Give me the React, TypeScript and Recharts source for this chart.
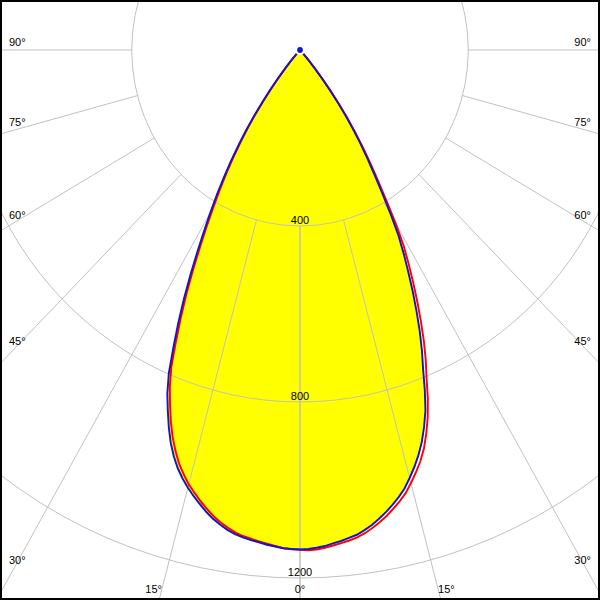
import React from "react";
import { RadarChart, Radar, PolarGrid, PolarAngleAxis, PolarRadiusAxis } from "recharts";

// gamma angles (deg from nadir) at which the intensities below were read
const gammas = [
  0, 1, 2, 3, 4, 5, 6, 7, 8, 9, 10, 11, 12, 13, 14, 15, 16, 17, 18, 19, 20, 21, 22,
  23, 24, 25, 26, 27, 28, 29, 30, 31, 32, 33, 34, 35, 36, 37, 38, 39, 40, 41, 42, 43, 44, 45,
];

// cd, blue plane (left / right half)
const blueLeft = [
  1135, 1134, 1133, 1130, 1127, 1123, 1120, 1116, 1111, 1104, 1095, 1085, 1073, 1059, 1045, 1030,
  1013, 994, 971, 944, 912, 877, 842, 798, 740, 685, 630, 574, 520, 470, 425, 383, 342, 302, 262,
  225, 188, 150, 115, 85, 58, 36, 18, 6, 0, 0,
];
const blueRight = [
  1135, 1134, 1132, 1129, 1124, 1120, 1115, 1110, 1102, 1093, 1082, 1070, 1057, 1043, 1027, 1007,
  986, 963, 937, 906, 872, 828, 781, 742, 700, 656, 612, 568, 526, 484, 432, 380, 335, 295, 258,
  222, 186, 150, 115, 85, 58, 36, 18, 6, 0, 0,
];
// cd, red plane (left / right half)
const redLeft = [
  1136, 1135, 1133, 1129, 1125, 1121, 1117, 1113, 1107, 1099, 1090, 1079, 1066, 1052, 1037, 1022,
  1003, 983, 958, 930, 898, 862, 826, 783, 725, 670, 615, 559, 505, 456, 411, 370, 330, 292, 253,
  217, 181, 144, 111, 82, 56, 35, 17, 6, 0, 0,
];
const redRight = [
  1138, 1137, 1136, 1133, 1129, 1125, 1121, 1116, 1109, 1100, 1090, 1079, 1066, 1053, 1038, 1019,
  999, 978, 953, 922, 888, 848, 803, 765, 724, 680, 636, 592, 550, 508, 455, 398, 350, 307, 268,
  230, 192, 155, 118, 87, 59, 37, 18, 6, 0, 0,
];

const ringLabels = [400, 800, 1200];
const rayAngles = [0, 15, 30, 45, 60, 75, 90];

const STEP = 1;
const MAX_CD = 1600;

// full turn, index 0 = nadir, going clockwise (left side first); nothing is emitted past 45°
const table = Array.from({ length: 360 / STEP }, (_, i) => {
  const a = i * STEP;
  const li = gammas.indexOf(a);
  const ri = gammas.indexOf(360 - a);
  return {
    a,
    blue: li >= 0 ? blueLeft[li] : ri >= 0 ? blueRight[ri] : 0,
    red: li >= 0 ? redLeft[li] : ri >= 0 ? redRight[ri] : 0,
  };
});

// the original diagram is squeezed horizontally
const K = 0.956;
const W = 630;
const H = 600;
const CX = W / 2;
const CY = 50;
const R = 704;
const INNER = (ringLabels[0] / MAX_CD) * R;
const FONT = "'Liberation Sans', Arial, sans-serif";

const toChartX = (sx: number) => CX + (sx - 300) / K;

function Label({ sx, sy, anchor, text }: { sx: number; sy: number; anchor: string; text: string }) {
  return (
    <g transform={`translate(${toChartX(sx)},${sy}) scale(${1 / K},1)`}>
      <text x={0} y={0} textAnchor={anchor as any} fontSize={11} fontFamily={FONT} fill="#000">
        {text}
      </text>
    </g>
  );
}

function AngleTick(props: any) {
  const a = Number(props.payload?.value);
  let g: number;
  let side: number;
  if (a <= 90) {
    g = a;
    side = -1;
  } else if (a >= 270) {
    g = 360 - a;
    side = 1;
  } else return <g />;
  if (g % 15 !== 0) return <g />;
  const t = (g * Math.PI) / 180;
  const yEdge = g === 0 ? Infinity : CY + 286 / (K * Math.tan(t));
  if (yEdge <= 585) {
    return <Label sx={side < 0 ? 9 : 591} sy={yEdge - 4} anchor={side < 0 ? "start" : "end"} text={`${g}°`} />;
  }
  const sx = 300 + side * K * Math.tan(t) * (589 - CY);
  const anchor = g === 0 ? "middle" : side < 0 ? "end" : "start";
  return <Label sx={sx} sy={593} anchor={anchor} text={`${g}°`} />;
}

function RadiusTick(props: any) {
  return <Label sx={300} sy={props.y - 2.5} anchor="middle" text={String(props.payload?.value)} />;
}

const layer: React.CSSProperties = {
  position: "absolute",
  left: 300 - CX,
  top: 0,
  width: W,
  height: H,
  transform: `scaleX(${K})`,
  transformOrigin: `${CX}px 0`,
};

const common = {
  width: W,
  height: H,
  data: table,
  cx: CX,
  cy: CY,
  outerRadius: R,
  startAngle: -90,
  endAngle: -450,
  margin: { top: 0, right: 0, bottom: 0, left: 0 },
};

export default function App() {
  return (
    <div style={{ position: "absolute", left: 0, top: 0, width: 600, height: 600, overflow: "hidden", background: "#fff" }}>
      {/* fill */}
      <div style={layer}>
        <RadarChart {...common}>
          <PolarAngleAxis dataKey="a" tick={false} axisLine={false} tickLine={false} />
          <PolarRadiusAxis domain={[0, MAX_CD]} tick={false} axisLine={false} tickLine={false} />
          <Radar dataKey="blue" fill="#ffff00" fillOpacity={1} stroke="none" dot={false} isAnimationActive={false} />
        </RadarChart>
      </div>
      {/* grid and labels */}
      <div style={layer}>
        <RadarChart {...common} innerRadius={INNER}>
          <PolarGrid
            gridType="circle"
            polarAngles={rayAngles.flatMap((g) => [-90 - g, -90 + g])}
            stroke="#c0c0c0"
            strokeWidth={1}
          />
          <PolarAngleAxis dataKey="a" tick={AngleTick} axisLine={false} tickLine={false} />
          <PolarRadiusAxis
            angle={-90}
            domain={[ringLabels[0], MAX_CD]}
            ticks={ringLabels}
            allowDataOverflow
            tick={RadiusTick}
            axisLine={false}
            tickLine={false}
          />
        </RadarChart>
      </div>
      {/* outlines */}
      <div style={layer}>
        <RadarChart {...common}>
          <PolarAngleAxis dataKey="a" tick={false} axisLine={false} tickLine={false} />
          <PolarRadiusAxis domain={[0, MAX_CD]} tick={false} axisLine={false} tickLine={false} />
          <Radar dataKey="red" fill="none" fillOpacity={0} stroke="#ff0000" strokeWidth={2} strokeLinejoin="miter" strokeMiterlimit={3} dot={false} isAnimationActive={false} />
          <Radar dataKey="blue" fill="none" fillOpacity={0} stroke="#1414c8" strokeWidth={2} strokeLinejoin="miter" strokeMiterlimit={3} dot={false} isAnimationActive={false} />
        </RadarChart>
      </div>
      <div style={{ position: "absolute", inset: 0, border: "2px solid #000", boxSizing: "border-box", pointerEvents: "none" }} />
    </div>
  );
}
